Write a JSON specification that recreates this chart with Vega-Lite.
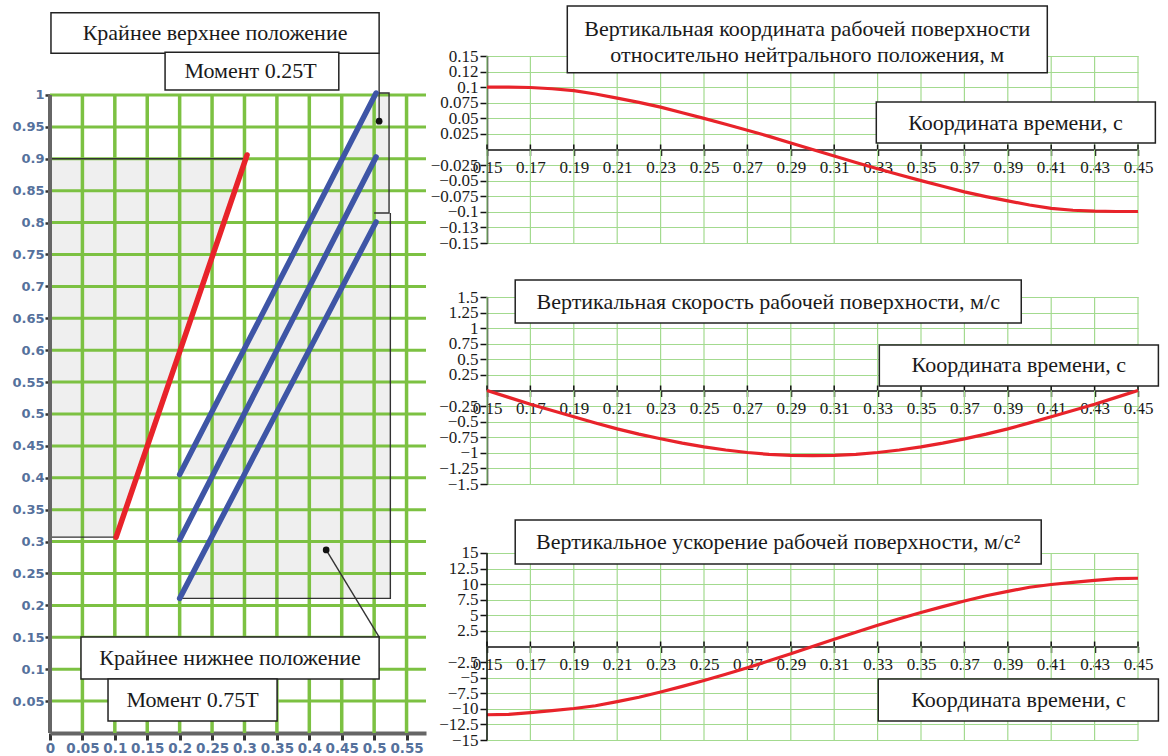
{
  "$schema": "https://vega.github.io/schema/vega-lite/v6.json",
  "autosize": {"type": "pad"},
  "padding": {"left": 11, "top": 5, "right": 0, "bottom": 0},
  "background": "white",
  "config": {"view": {"stroke": null}},
  "datasets": {
    "greys": [
      {"g": "p1", "y": 0.307, "xa": 0, "xb": 0.102},
      {"g": "p1", "y": 0.9, "xa": 0, "xb": 0.304},
      {"g": "p2", "y": 0.211, "xa": 0.2, "xb": 0.525},
      {"g": "p2", "y": 0.801, "xa": 0.503, "xb": 0.525},
      {"g": "p3", "y": 0.405, "xa": 0.2, "xb": 0.523},
      {"g": "p3", "y": 1.003, "xa": 0.503, "xb": 0.523}
    ],
    "lgx": [{"x": 0.05}, {"x": 0.1}, {"x": 0.15}, {"x": 0.2}, {"x": 0.25}, {"x": 0.3}, {"x": 0.35}, {"x": 0.4}, {"x": 0.45}, {"x": 0.5}, {"x": 0.55}],
    "lgy": [{"y": 0.05}, {"y": 0.1}, {"y": 0.15}, {"y": 0.2}, {"y": 0.25}, {"y": 0.3}, {"y": 0.35}, {"y": 0.4}, {"y": 0.45}, {"y": 0.5}, {"y": 0.55}, {"y": 0.6}, {"y": 0.65}, {"y": 0.7}, {"y": 0.75}, {"y": 0.8}, {"y": 0.85}, {"y": 0.9}, {"y": 0.95}, {"y": 1}],
    "laxis": [{"x": 0, "y": 0, "y2": 1}],
    "borders": [
      {"s": "b1", "o": 1, "x": 0, "y": 0.9}, {"s": "b1", "o": 2, "x": 0.304, "y": 0.9},
      {"s": "b2", "o": 1, "x": 0, "y": 0.307}, {"s": "b2", "o": 2, "x": 0.102, "y": 0.307},
      {"s": "b3", "o": 1, "x": 0.503, "y": 1.003}, {"s": "b3", "o": 2, "x": 0.523, "y": 1.003}, {"s": "b3", "o": 3, "x": 0.523, "y": 0.815}, {"s": "b3", "o": 4, "x": 0.5, "y": 0.815},
      {"s": "b4", "o": 1, "x": 0.525, "y": 0.815}, {"s": "b4", "o": 2, "x": 0.525, "y": 0.211}, {"s": "b4", "o": 3, "x": 0.2, "y": 0.211},
      {"s": "l1", "o": 1, "x": 0.5077, "y": 1.0654}, {"s": "l1", "o": 2, "x": 0.5077, "y": 0.959},
      {"s": "l2", "o": 1, "x": 0.508, "y": 0.15}, {"s": "l2", "o": 2, "x": 0.426, "y": 0.287}
    ],
    "llines": [
      {"s": "red", "x": 0.102, "y": 0.307}, {"s": "red", "x": 0.304, "y": 0.906},
      {"s": "b1", "x": 0.2, "y": 0.405}, {"s": "b1", "x": 0.503, "y": 1.003},
      {"s": "b2", "x": 0.2, "y": 0.303}, {"s": "b2", "x": 0.503, "y": 0.903},
      {"s": "b3", "x": 0.2, "y": 0.211}, {"s": "b3", "x": 0.503, "y": 0.801}
    ],
    "dots": [{"x": 0.5077, "y": 0.959}, {"x": 0.426, "y": 0.287}],
    "lboxes": [
      {"x1": 0.0015, "x2": 0.5077, "y1": 1.129, "y2": 1.0654},
      {"x1": 0.1775, "x2": 0.4455, "y1": 1.0669, "y2": 1.0078},
      {"x1": 0.0478, "x2": 0.5077, "y1": 0.1505, "y2": 0.0846},
      {"x1": 0.0895, "x2": 0.3503, "y1": 0.0846, "y2": 0.0188}
    ],
    "ltexts": [
      {"x": 0.2546, "y": 1.0972, "label": "Крайнее верхнее положение"},
      {"x": 0.3094, "y": 1.0373, "label": "Момент 0.25T"},
      {"x": 0.2778, "y": 0.1176, "label": "Крайнее нижнее положение"},
      {"x": 0.2199, "y": 0.0517, "label": "Момент 0.75T"}
    ],
    "tg": [{"t": 0.15}, {"t": 0.17}, {"t": 0.19}, {"t": 0.21}, {"t": 0.23}, {"t": 0.25}, {"t": 0.27}, {"t": 0.29}, {"t": 0.31}, {"t": 0.33}, {"t": 0.35}, {"t": 0.37}, {"t": 0.39}, {"t": 0.41}, {"t": 0.43}, {"t": 0.45}],
    "p3ax": [{"t": 0.15, "lo": -15, "hi": 15}],
    "pos": [
      {"t": 0.15, "v": 0.1}, {"t": 0.16, "v": 0.1}, {"t": 0.17, "v": 0.0995}, {"t": 0.18, "v": 0.0975}, {"t": 0.19, "v": 0.0945},
      {"t": 0.2, "v": 0.089}, {"t": 0.21, "v": 0.0825}, {"t": 0.22, "v": 0.0755}, {"t": 0.23, "v": 0.068}, {"t": 0.24, "v": 0.059},
      {"t": 0.25, "v": 0.05}, {"t": 0.26, "v": 0.0405}, {"t": 0.27, "v": 0.031}, {"t": 0.28, "v": 0.021}, {"t": 0.29, "v": 0.0105},
      {"t": 0.3, "v": 0}, {"t": 0.31, "v": -0.0105}, {"t": 0.32, "v": -0.021}, {"t": 0.33, "v": -0.031}, {"t": 0.34, "v": -0.0405},
      {"t": 0.35, "v": -0.05}, {"t": 0.36, "v": -0.059}, {"t": 0.37, "v": -0.068}, {"t": 0.38, "v": -0.0755}, {"t": 0.39, "v": -0.0825},
      {"t": 0.4, "v": -0.089}, {"t": 0.41, "v": -0.0945}, {"t": 0.42, "v": -0.0975}, {"t": 0.43, "v": -0.099}, {"t": 0.44, "v": -0.0995}, {"t": 0.45, "v": -0.0995}
    ],
    "vel": [
      {"t": 0.15, "v": 0}, {"t": 0.16, "v": -0.11}, {"t": 0.17, "v": -0.22}, {"t": 0.18, "v": -0.32}, {"t": 0.19, "v": -0.42},
      {"t": 0.2, "v": -0.52}, {"t": 0.21, "v": -0.615}, {"t": 0.22, "v": -0.7}, {"t": 0.23, "v": -0.775}, {"t": 0.24, "v": -0.845},
      {"t": 0.25, "v": -0.905}, {"t": 0.26, "v": -0.955}, {"t": 0.27, "v": -0.995}, {"t": 0.28, "v": -1.025}, {"t": 0.29, "v": -1.04},
      {"t": 0.3, "v": -1.045}, {"t": 0.31, "v": -1.04}, {"t": 0.32, "v": -1.025}, {"t": 0.33, "v": -0.995}, {"t": 0.34, "v": -0.955},
      {"t": 0.35, "v": -0.905}, {"t": 0.36, "v": -0.845}, {"t": 0.37, "v": -0.775}, {"t": 0.38, "v": -0.7}, {"t": 0.39, "v": -0.615},
      {"t": 0.4, "v": -0.52}, {"t": 0.41, "v": -0.42}, {"t": 0.42, "v": -0.32}, {"t": 0.43, "v": -0.22}, {"t": 0.44, "v": -0.11}, {"t": 0.45, "v": 0}
    ],
    "acc": [
      {"t": 0.15, "v": -10.95}, {"t": 0.16, "v": -10.9}, {"t": 0.17, "v": -10.6}, {"t": 0.18, "v": -10.3}, {"t": 0.19, "v": -9.95},
      {"t": 0.2, "v": -9.5}, {"t": 0.21, "v": -8.85}, {"t": 0.22, "v": -8.15}, {"t": 0.23, "v": -7.3}, {"t": 0.24, "v": -6.4},
      {"t": 0.25, "v": -5.45}, {"t": 0.26, "v": -4.45}, {"t": 0.27, "v": -3.4}, {"t": 0.28, "v": -2.3}, {"t": 0.29, "v": -1.15},
      {"t": 0.3, "v": 0}, {"t": 0.31, "v": 1.15}, {"t": 0.32, "v": 2.3}, {"t": 0.33, "v": 3.4}, {"t": 0.34, "v": 4.45},
      {"t": 0.35, "v": 5.45}, {"t": 0.36, "v": 6.4}, {"t": 0.37, "v": 7.3}, {"t": 0.38, "v": 8.15}, {"t": 0.39, "v": 8.85},
      {"t": 0.4, "v": 9.5}, {"t": 0.41, "v": 9.95}, {"t": 0.42, "v": 10.3}, {"t": 0.43, "v": 10.6}, {"t": 0.44, "v": 10.9}, {"t": 0.45, "v": 10.95}
    ],
    "b1": [
      {"x1": 0.187, "x2": 0.4082, "y1": 0.2302, "y2": 0.1232},
      {"x1": 0.3294, "x2": 0.458, "y1": 0.0762, "y2": 0.0104}
    ],
    "t1": [
      {"x": 0.2976, "y": 0.1933, "label": "Вертикальная координата рабочей поверхности"},
      {"x": 0.2976, "y": 0.1516, "label": "относительно нейтрального положения, м"},
      {"x": 0.3935, "y": 0.0433, "label": "Координата времени, с"}
    ],
    "b2": [
      {"x1": 0.163, "x2": 0.3962, "y1": 1.7727, "y2": 1.0829},
      {"x1": 0.3308, "x2": 0.4594, "y1": 0.7299, "y2": 0.0722}
    ],
    "t2": [
      {"x": 0.2796, "y": 1.4198, "label": "Вертикальная скорость рабочей поверхности, м/с"},
      {"x": 0.3951, "y": 0.4011, "label": "Координата времени, с"}
    ],
    "b3": [
      {"x1": 0.163, "x2": 0.4054, "y1": 20.294, "y2": 13.235},
      {"x1": 0.3303, "x2": 0.4594, "y1": -5.214, "y2": -11.952}
    ],
    "t3": [
      {"x": 0.2842, "y": 16.765, "label": "Вертикальное ускорение рабочей поверхности, м/с²"},
      {"x": 0.3949, "y": -8.583, "label": "Координата времени, с"}
    ]
  },
  "spacing": 61,
  "bounds": "flush",
  "hconcat": [
    {
      "width": 376,
      "height": 677,
      "resolve": {"axis": {"x": "independent", "y": "independent"}},
      "layer": [
        {
          "data": {"name": "greys"},
          "mark": {"type": "area", "orient": "horizontal", "color": "#efefef"},
          "encoding": {
            "y": {"field": "y", "type": "quantitative", "axis": null, "scale": {"domain": [0, 1.0611], "nice": false, "zero": false}},
            "x": {"field": "xa", "type": "quantitative", "axis": null, "scale": {"domain": [0, 0.58], "nice": false, "zero": false}},
            "x2": {"field": "xb"},
            "detail": {"field": "g"}
          }
        },
        {
          "data": {"name": "lgx"},
          "mark": {"type": "rule", "color": "#7cc142", "strokeWidth": 3.5},
          "encoding": {
            "x": {"field": "x", "type": "quantitative", "axis": {
              "values": [0, 0.05, 0.1, 0.15, 0.2, 0.25, 0.3, 0.35, 0.4, 0.45, 0.5, 0.55],
              "format": ".2~f", "labelFont": "DejaVu Sans", "labelFontWeight": "bold", "labelFontSize": 13.5,
              "labelColor": "#55719c", "labelOverlap": false, "labelFlush": false, "labelPadding": 1,
              "domain": true, "domainColor": "#666666", "domainWidth": 4, "ticks": true, "tickColor": "#333333", "tickWidth": 3, "tickSize": 7,
              "grid": false, "title": null}},
            "y": {"datum": 0, "axis": null},
            "y2": {"datum": 1}
          }
        },
        {
          "data": {"name": "lgy"},
          "mark": {"type": "rule", "color": "#7cc142", "strokeWidth": 3},
          "encoding": {
            "y": {"field": "y", "type": "quantitative", "axis": {
              "values": [0.05, 0.1, 0.15, 0.2, 0.25, 0.3, 0.35, 0.4, 0.45, 0.5, 0.55, 0.6, 0.65, 0.7, 0.75, 0.8, 0.85, 0.9, 0.95, 1],
              "format": ".2~f", "labelFont": "DejaVu Sans", "labelFontWeight": "bold", "labelFontSize": 13,
              "labelColor": "#55719c", "labelOverlap": false, "labelFlush": false, "labelPadding": 1,
              "domain": false, "ticks": true, "tickColor": "#333333", "tickWidth": 2.5, "tickSize": 5,
              "grid": false, "title": null}},
            "x": {"datum": 0, "axis": null},
            "x2": {"datum": 0.58}
          }
        },
        {
          "data": {"name": "borders"},
          "mark": {"type": "line", "color": "#333333", "strokeWidth": 1.4},
          "encoding": {
            "x": {"field": "x", "type": "quantitative", "axis": null},
            "y": {"field": "y", "type": "quantitative", "axis": null},
            "detail": {"field": "s"},
            "order": {"field": "o"}
          }
        },
        {
          "data": {"name": "laxis"},
          "mark": {"type": "rule", "color": "#666666", "strokeWidth": 4},
          "encoding": {
            "x": {"field": "x", "type": "quantitative", "axis": null},
            "y": {"field": "y", "type": "quantitative", "axis": null},
            "y2": {"field": "y2"}
          }
        },
        {
          "data": {"name": "llines"},
          "mark": {"type": "line", "strokeWidth": 5.5, "strokeCap": "round"},
          "encoding": {
            "x": {"field": "x", "type": "quantitative", "axis": null},
            "y": {"field": "y", "type": "quantitative", "axis": null},
            "color": {"field": "s", "type": "nominal", "scale": {"domain": ["red", "b1", "b2", "b3"], "range": ["#e8232a", "#3e55a6", "#3e55a6", "#3e55a6"]}, "legend": null}
          }
        },
        {
          "data": {"name": "dots"},
          "mark": {"type": "point", "filled": true, "color": "#111111", "size": 45, "opacity": 1},
          "encoding": {
            "x": {"field": "x", "type": "quantitative", "axis": null},
            "y": {"field": "y", "type": "quantitative", "axis": null}
          }
        },
        {
          "data": {"name": "lboxes"},
          "mark": {"type": "rect", "fill": "white", "stroke": "#222222", "strokeWidth": 1.5},
          "encoding": {
            "x": {"field": "x1", "type": "quantitative", "axis": null},
            "x2": {"field": "x2"},
            "y": {"field": "y1", "type": "quantitative", "axis": null},
            "y2": {"field": "y2"}
          }
        },
        {
          "data": {"name": "ltexts"},
          "mark": {"type": "text", "font": "Liberation Serif", "fontSize": 22, "color": "#1a1a1a", "align": "center", "baseline": "middle"},
          "encoding": {
            "x": {"field": "x", "type": "quantitative", "axis": null},
            "y": {"field": "y", "type": "quantitative", "axis": null},
            "text": {"field": "label"}
          }
        }
      ]
    },
    {
      "spacing": 54,
      "bounds": "flush",
      "vconcat": [
        {
          "width": 651,
          "height": 187,
          "resolve": {"axis": {"x": "independent", "y": "independent"}},
          "layer": [
            {
              "data": {"name": "tg"},
              "mark": {"type": "rule", "color": "#a3da8f", "strokeWidth": 1.2},
              "encoding": {
                "x": {"field": "t", "type": "quantitative", "scale": {"domain": [0.15, 0.45], "nice": false, "zero": false}, "axis": {
                  "values": [0.15, 0.17, 0.19, 0.21, 0.23, 0.25, 0.27, 0.29, 0.31, 0.33, 0.35, 0.37, 0.39, 0.41, 0.43, 0.45],
                  "format": ".2f", "offset": -93.5, "labelFont": "Liberation Serif", "labelFontSize": 17, "labelColor": "#1a1a1a",
                  "labelPadding": 4, "labelOverlap": false, "labelFlush": false, "domain": true, "domainColor": "#111111", "domainWidth": 1.5,
                  "ticks": true, "tickColor": "#111111", "tickWidth": 1.5, "tickSize": 6, "grid": false, "title": null}},
                "y": {"datum": -0.15, "axis": null},
                "y2": {"datum": 0.15}
              }
            },
            {
              "data": {"name": "tg"},
              "mark": {"type": "rule", "color": "#111111", "strokeWidth": 1.5},
              "encoding": {
                "x": {"field": "t", "type": "quantitative", "axis": null},
                "y": {"datum": 0, "axis": null},
                "y2": {"datum": 0.008}
              }
            },
            {
              "data": {"name": "pos"},
              "mark": {"type": "line", "color": "#e8232a", "strokeWidth": 3.2},
              "encoding": {
                "x": {"field": "t", "type": "quantitative", "axis": null},
                "y": {"field": "v", "type": "quantitative", "scale": {"domain": [-0.15, 0.15], "nice": false, "zero": false}, "axis": {
                  "values": [-0.15, -0.125, -0.1, -0.075, -0.05, -0.025, 0.025, 0.05, 0.075, 0.1, 0.125, 0.15],
                  "labelExpr": "datum.value == 0.125 ? '0.12' : datum.value == -0.125 ? '−0.13' : replace(format(datum.value, '.3~f'), '-', '−')",
                  "labelFont": "Liberation Serif", "labelFontSize": 17, "labelColor": "#1a1a1a", "labelPadding": 2,
                  "labelOverlap": false, "labelFlush": false, "domain": true, "domainColor": "#111111", "domainWidth": 1.5,
                  "ticks": true, "tickColor": "#111111", "tickWidth": 1.5, "tickSize": 7, "grid": true, "gridColor": "#a3da8f", "gridWidth": 1.2, "title": null}}
              }
            },
            {
              "data": {"name": "b1"},
              "mark": {"type": "rect", "fill": "white", "stroke": "#222222", "strokeWidth": 1.5},
              "encoding": {
                "x": {"field": "x1", "type": "quantitative", "axis": null},
                "x2": {"field": "x2"},
                "y": {"field": "y1", "type": "quantitative", "axis": null},
                "y2": {"field": "y2"}
              }
            },
            {
              "data": {"name": "t1"},
              "mark": {"type": "text", "font": "Liberation Serif", "fontSize": 22, "color": "#1a1a1a", "align": "center", "baseline": "middle"},
              "encoding": {
                "x": {"field": "x", "type": "quantitative", "axis": null},
                "y": {"field": "y", "type": "quantitative", "axis": null},
                "text": {"field": "label"}
              }
            }
          ]
        },
        {
          "width": 651,
          "height": 187,
          "resolve": {"axis": {"x": "independent", "y": "independent"}},
          "layer": [
            {
              "data": {"name": "tg"},
              "mark": {"type": "rule", "color": "#a3da8f", "strokeWidth": 1.2},
              "encoding": {
                "x": {"field": "t", "type": "quantitative", "scale": {"domain": [0.15, 0.45], "nice": false, "zero": false}, "axis": {
                  "values": [0.15, 0.17, 0.19, 0.21, 0.23, 0.25, 0.27, 0.29, 0.31, 0.33, 0.35, 0.37, 0.39, 0.41, 0.43, 0.45],
                  "format": ".2f", "offset": -93.5, "labelFont": "Liberation Serif", "labelFontSize": 17, "labelColor": "#1a1a1a",
                  "labelPadding": 4, "labelOverlap": false, "labelFlush": false, "domain": true, "domainColor": "#111111", "domainWidth": 1.5,
                  "ticks": true, "tickColor": "#111111", "tickWidth": 1.5, "tickSize": 6, "grid": false, "title": null}},
                "y": {"datum": -1.5, "axis": null},
                "y2": {"datum": 1.5}
              }
            },
            {
              "data": {"name": "tg"},
              "mark": {"type": "rule", "color": "#111111", "strokeWidth": 1.5},
              "encoding": {
                "x": {"field": "t", "type": "quantitative", "axis": null},
                "y": {"datum": 0, "axis": null},
                "y2": {"datum": 0.08}
              }
            },
            {
              "data": {"name": "vel"},
              "mark": {"type": "line", "color": "#e8232a", "strokeWidth": 3.2},
              "encoding": {
                "x": {"field": "t", "type": "quantitative", "axis": null},
                "y": {"field": "v", "type": "quantitative", "scale": {"domain": [-1.5, 1.5], "nice": false, "zero": false}, "axis": {
                  "values": [-1.5, -1.25, -1, -0.75, -0.5, -0.25, 0.25, 0.5, 0.75, 1, 1.25, 1.5],
                  "labelExpr": "replace(format(datum.value, '.2~f'), '-', '−')",
                  "labelFont": "Liberation Serif", "labelFontSize": 17, "labelColor": "#1a1a1a", "labelPadding": 2,
                  "labelOverlap": false, "labelFlush": false, "domain": true, "domainColor": "#111111", "domainWidth": 1.5,
                  "ticks": true, "tickColor": "#111111", "tickWidth": 1.5, "tickSize": 7, "grid": true, "gridColor": "#a3da8f", "gridWidth": 1.2, "title": null}}
              }
            },
            {
              "data": {"name": "b2"},
              "mark": {"type": "rect", "fill": "white", "stroke": "#222222", "strokeWidth": 1.5},
              "encoding": {
                "x": {"field": "x1", "type": "quantitative", "axis": null},
                "x2": {"field": "x2"},
                "y": {"field": "y1", "type": "quantitative", "axis": null},
                "y2": {"field": "y2"}
              }
            },
            {
              "data": {"name": "t2"},
              "mark": {"type": "text", "font": "Liberation Serif", "fontSize": 22, "color": "#1a1a1a", "align": "center", "baseline": "middle"},
              "encoding": {
                "x": {"field": "x", "type": "quantitative", "axis": null},
                "y": {"field": "y", "type": "quantitative", "axis": null},
                "text": {"field": "label"}
              }
            }
          ]
        },
        {
          "width": 651,
          "height": 202,
          "resolve": {"axis": {"x": "independent", "y": "independent"}},
          "layer": [
            {
              "data": {"name": "tg"},
              "mark": {"type": "rule", "color": "#a3da8f", "strokeWidth": 1.2},
              "encoding": {
                "x": {"field": "t", "type": "quantitative", "scale": {"domain": [0.15, 0.45], "nice": false, "zero": false}, "axis": {
                  "values": [0.15, 0.17, 0.19, 0.21, 0.23, 0.25, 0.27, 0.29, 0.31, 0.33, 0.35, 0.37, 0.39, 0.41, 0.43, 0.45],
                  "format": ".2f", "offset": -93.5, "labelFont": "Liberation Serif", "labelFontSize": 17, "labelColor": "#1a1a1a",
                  "labelPadding": 4, "labelOverlap": false, "labelFlush": false, "domain": true, "domainColor": "#111111", "domainWidth": 1.5,
                  "ticks": true, "tickColor": "#111111", "tickWidth": 1.5, "tickSize": 6, "grid": false, "title": null}},
                "y": {"datum": -15, "axis": null},
                "y2": {"datum": 15}
              }
            },
            {
              "data": {"name": "tg"},
              "mark": {"type": "rule", "color": "#111111", "strokeWidth": 1.5},
              "encoding": {
                "x": {"field": "t", "type": "quantitative", "axis": null},
                "y": {"datum": 0, "axis": null},
                "y2": {"datum": 0.8}
              }
            },
            {
              "data": {"name": "acc"},
              "mark": {"type": "line", "color": "#e8232a", "strokeWidth": 3.2},
              "encoding": {
                "x": {"field": "t", "type": "quantitative", "axis": null},
                "y": {"field": "v", "type": "quantitative", "scale": {"domain": [-15, 17.406], "nice": false, "zero": false}, "axis": {
                  "values": [-15, -12.5, -10, -7.5, -5, -2.5, 2.5, 5, 7.5, 10, 12.5, 15],
                  "labelExpr": "replace(format(datum.value, '.1~f'), '-', '−')",
                  "labelFont": "Liberation Serif", "labelFontSize": 17, "labelColor": "#1a1a1a", "labelPadding": 2,
                  "labelOverlap": false, "labelFlush": false, "domain": false,
                  "ticks": true, "tickColor": "#111111", "tickWidth": 1.5, "tickSize": 7, "grid": true, "gridColor": "#a3da8f", "gridWidth": 1.2, "title": null}}
              }
            },
            {
              "data": {"name": "p3ax"},
              "mark": {"type": "rule", "color": "#111111", "strokeWidth": 1.5},
              "encoding": {
                "x": {"field": "t", "type": "quantitative", "axis": null},
                "y": {"field": "lo", "type": "quantitative", "axis": null},
                "y2": {"field": "hi"}
              }
            },
            {
              "data": {"name": "b3"},
              "mark": {"type": "rect", "fill": "white", "stroke": "#222222", "strokeWidth": 1.5},
              "encoding": {
                "x": {"field": "x1", "type": "quantitative", "axis": null},
                "x2": {"field": "x2"},
                "y": {"field": "y1", "type": "quantitative", "axis": null},
                "y2": {"field": "y2"}
              }
            },
            {
              "data": {"name": "t3"},
              "mark": {"type": "text", "font": "Liberation Serif", "fontSize": 22, "color": "#1a1a1a", "align": "center", "baseline": "middle"},
              "encoding": {
                "x": {"field": "x", "type": "quantitative", "axis": null},
                "y": {"field": "y", "type": "quantitative", "axis": null},
                "text": {"field": "label"}
              }
            }
          ]
        }
      ]
    }
  ]
}
